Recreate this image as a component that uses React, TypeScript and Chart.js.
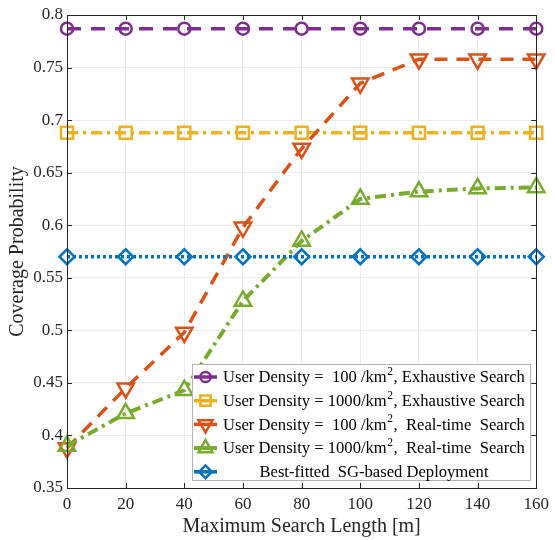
import React, { useEffect, useRef } from "react";
import { Chart, registerables } from "chart.js";
import { drawPoint } from "chart.js/helpers";

Chart.register(...registerables);

// ---- data ----
const searchLengths = [0, 20, 40, 60, 80, 100, 120, 140, 160];
const exhaustive100 = [0.787, 0.787, 0.787, 0.787, 0.787, 0.787, 0.787, 0.787, 0.787];
const exhaustive1000 = [0.688, 0.688, 0.688, 0.688, 0.688, 0.688, 0.688, 0.688, 0.688];
const realtime100 = [0.388, 0.445, 0.498, 0.598, 0.673, 0.735, 0.758, 0.758, 0.758];
const realtime1000 = [0.39, 0.421, 0.443, 0.528, 0.585, 0.625, 0.632, 0.635, 0.636];
const sgDeployment = [0.57, 0.57, 0.57, 0.57, 0.57, 0.57, 0.57, 0.57, 0.57];

const xTickValues = [0, 20, 40, 60, 80, 100, 120, 140, 160];
const yTickValues = [0.35, 0.4, 0.45, 0.5, 0.55, 0.6, 0.65, 0.7, 0.75, 0.8];

const xTitle = "Maximum Search Length [m]";
const yTitle = "Coverage Probability";

// legend label parts: [before superscript, superscript, after]
const legendLabels: [string, string, string][] = [
  ["User Density =  100 /km", "2", ", Exhaustive Search"],
  ["User Density = 1000/km", "2", ", Exhaustive Search"],
  ["User Density =  100 /km", "2", ",  Real-time  Search"],
  ["User Density = 1000/km", "2", ",  Real-time  Search"],
  ["Best-fitted  SG-based Deployment", "", ""],
];

const FONT = "'Liberation Serif', 'Times New Roman', serif";
const TEXT = "#262626";

type Style = {
  color: string;
  dash: number[];
  width: number;
  pointStyle: string;
  radius: number;
  rotation: number;
};

const styles: Style[] = [
  { color: "#7E2F8E", dash: [14, 10], width: 3.5, pointStyle: "circle", radius: 6, rotation: 0 },
  { color: "#EDB120", dash: [11, 5, 3, 5], width: 3.5, pointStyle: "rect", radius: 8.5, rotation: 0 },
  { color: "#D95319", dash: [13, 9], width: 3.5, pointStyle: "triangle", radius: 9.5, rotation: 180 },
  { color: "#77AC30", dash: [11, 5, 3, 5], width: 4, pointStyle: "triangle", radius: 9.5, rotation: 0 },
  { color: "#0072BD", dash: [3, 3], width: 3.5, pointStyle: "rectRot", radius: 7.5, rotation: 0 },
];

const seriesValues = [exhaustive100, exhaustive1000, realtime100, realtime1000, sgDeployment];

const boxPlugin = {
  id: "boxAndLegend",
  afterDraw(chart: any) {
    const ctx: CanvasRenderingContext2D = chart.ctx;
    const { left, right, top, bottom } = chart.chartArea;
    const xs = chart.scales.x;
    const ys = chart.scales.y;
    ctx.save();
    ctx.strokeStyle = TEXT;
    ctx.lineWidth = 1;
    ctx.setLineDash([]);
    ctx.beginPath();
    ctx.moveTo(Math.round(left) + 0.5, Math.round(top) + 0.5);
    ctx.lineTo(Math.round(right) + 0.5, Math.round(top) + 0.5);
    ctx.lineTo(Math.round(right) + 0.5, Math.round(bottom) + 0.5);
    ctx.lineTo(Math.round(left) + 0.5, Math.round(bottom) + 0.5);
    ctx.closePath();
    ctx.stroke();
    const tl = 5;
    ctx.beginPath();
    for (const v of xTickValues) {
      const px = Math.round(xs.getPixelForValue(v)) + 0.5;
      ctx.moveTo(px, bottom);
      ctx.lineTo(px, bottom - tl);
      ctx.moveTo(px, top);
      ctx.lineTo(px, top + tl);
    }
    for (const v of yTickValues) {
      const py = Math.round(ys.getPixelForValue(v)) + 0.5;
      ctx.moveTo(left, py);
      ctx.lineTo(left + tl, py);
      ctx.moveTo(right, py);
      ctx.lineTo(right - tl, py);
    }
    ctx.stroke();

    // legend
    const lx = 192.5, ly = 364.5, lw = 338, lh = 116;
    ctx.fillStyle = "#ffffff";
    ctx.fillRect(lx, ly, lw, lh);
    ctx.lineWidth = 1;
    ctx.strokeStyle = "#b3b3b3";
    ctx.strokeRect(lx, ly, lw, lh);
    const rowH = 23.7;
    for (let i = 0; i < legendLabels.length; i++) {
      const st = styles[i];
      const cy = 377 + i * rowH;
      ctx.lineWidth = 2.5;
      ctx.fillStyle = "#ffffff";
      ctx.strokeStyle = st.color;
      drawPoint(ctx, { pointStyle: st.pointStyle as any, rotation: st.rotation, radius: st.radius * 0.85, borderWidth: 2.5 } as any, 205.5, cy);
      ctx.beginPath();
      ctx.moveTo(194, cy);
      ctx.lineTo(217, cy);
      ctx.lineWidth = st.width;
      ctx.stroke();

      const [a, sup, b] = legendLabels[i];
      ctx.fillStyle = "#000000";
      ctx.textBaseline = "middle";
      ctx.font = `16.6px ${FONT}`;
      if (!sup && !b) {
        ctx.textAlign = "center";
        ctx.fillText(a, 374, cy + 1);
      } else {
        ctx.textAlign = "left";
        let x = 223;
        ctx.fillText(a, x, cy + 1);
        x += ctx.measureText(a).width;
        ctx.font = `11.5px ${FONT}`;
        ctx.fillText(sup, x + 0.5, cy - 5);
        x += ctx.measureText(sup).width + 1;
        ctx.font = `16.6px ${FONT}`;
        ctx.fillText(b, x, cy + 1);
      }
    }
    ctx.restore();
  },
};

export default function App() {
  const ref = useRef<HTMLCanvasElement | null>(null);
  useEffect(() => {
    if (!ref.current) return;
    Chart.defaults.font.family = FONT;
    Chart.defaults.color = TEXT;
    const datasets = seriesValues.map((vals, i) => {
      const st = styles[i];
      return {
        label: legendLabels[i].join(""),
        data: searchLengths.map((x, j) => ({ x, y: vals[j] })),
        borderColor: st.color,
        borderWidth: st.width,
        borderDash: st.dash,
        pointStyle: st.pointStyle,
        pointRadius: st.radius,
        pointRotation: st.rotation,
        pointBorderWidth: 2.5,
        pointBorderColor: st.color,
        pointBackgroundColor: "rgba(0,0,0,0)",
        tension: 0,
        clip: false as any,
        order: 10 - i,
      };
    });
    const chart = new Chart(ref.current, {
      type: "line",
      data: { datasets: datasets as any },
      options: {
        animation: false,
        responsive: true,
        maintainAspectRatio: false,
        layout: { padding: { left: 0, top: 15, right: 14, bottom: 0 } },
        plugins: { legend: { display: false }, tooltip: { enabled: false } },
        scales: {
          x: {
            type: "linear",
            min: 0,
            max: 160,
            afterBuildTicks: (s: any) => {
              s.ticks = xTickValues.map((v) => ({ value: v }));
            },
            afterFit: (s: any) => {
              s.height = 52;
            },
            ticks: { font: { size: 17 }, color: TEXT, padding: 6, maxRotation: 0, autoSkip: false },
            grid: { color: "#ececec", drawTicks: false, lineWidth: 1 },
            border: { color: TEXT, width: 1 },
            title: { display: true, text: xTitle, font: { size: 20 }, color: TEXT, padding: { top: 0, bottom: 1 } },
          },
          y: {
            type: "linear",
            min: 0.35,
            max: 0.8,
            afterBuildTicks: (s: any) => {
              s.ticks = yTickValues.map((v) => ({ value: v }));
            },
            afterFit: (s: any) => {
              s.width = 67;
            },
            ticks: {
              font: { size: 17 },
              color: TEXT,
              padding: 4,
              callback: (v: any) => String(Number(Number(v).toFixed(2))),
            },
            grid: { color: "#ececec", drawTicks: false, lineWidth: 1 },
            border: { color: TEXT, width: 1 },
            title: { display: true, text: yTitle, font: { size: 20 }, color: TEXT, padding: { top: 6, bottom: 0 } },
          },
        },
      },
      plugins: [boxPlugin],
    });
    return () => chart.destroy();
  }, []);
  return (
    <div style={{ position: "fixed", left: 0, top: 0, width: 555, height: 540, background: "#ffffff" }}>
      <canvas ref={ref} />
    </div>
  );
}
